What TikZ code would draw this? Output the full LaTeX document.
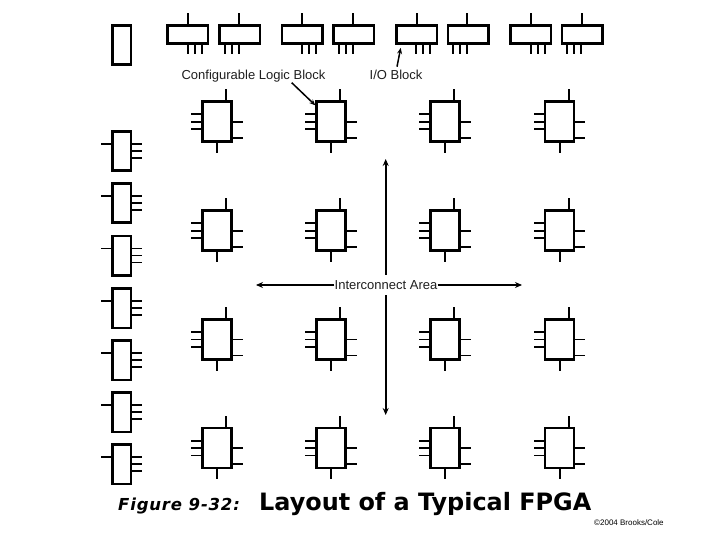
\documentclass[tikz,border=0pt]{standalone}
\usepackage{fontspec}
\setmainfont{Liberation Sans}
\newfontfamily\capfont{DejaVu Sans}
\usetikzlibrary{arrows.meta,calc}
\tikzset{
  blockbox/.style={draw=black,line width=2.6pt,fill=white,inner sep=0pt,anchor=north west},
  pin/.style={draw=black,line width=1.7pt},
  lbl/.style={inner sep=0pt,anchor=base,font=\fontsize{13}{15}\selectfont,text=black!88},
  callout/.style={draw=black,line width=1.5pt,-{Stealth[length=6pt,width=5pt]}},
  span/.style={draw=black,line width=1.7pt,-{Stealth[length=7pt,width=6pt]}},
  spanh/.style={draw=black,line width=1.1pt,-{Stealth[length=7pt,width=6pt]}}
}
% CLB: name, left, top
\newcommand{\clbblock}[3]{%
  \node[blockbox,minimum width=29pt,minimum height=40pt] (#1) at (#2,#3) {};
  \draw[pin] ($(#1.north west)+(25,0)$) -- +(0,-11);
  \draw[pin] ($(#1.north west)+(0,14)$) -- +(-10,0);
  \draw[pin] ($(#1.north west)+(0,21.4)$) -- +(-10,0);
  \draw[pin] ($(#1.north west)+(0,28.7)$) -- +(-10,0);
  \draw[pin] ($(#1.north east)+(0,21.4)$) -- +(10,0);
  \draw[pin] ($(#1.north east)+(0,37.4)$) -- +(10,0);
  \draw[pin] ($(#1.south west)+(16,0)$) -- +(0,10);
}
% top I/O: name, left, top-stub offset, first bottom-stub offset
\newcommand{\topio}[4]{%
  \node[blockbox,minimum width=40.5pt,minimum height=18pt] (#1) at (#2,24) {};
  \draw[pin] ($(#1.north west)+(#3,0)$) -- +(0,-10.5);
  \foreach \d in {0,7,14}
    \draw[pin] ($(#1.south west)+(#4+\d,0)$) -- +(0,9.5);
}
% left I/O: name, top
\newcommand{\leftio}[2]{%
  \node[blockbox,minimum width=18.5pt,minimum height=39.5pt] (#1) at (111,#2) {};
  \draw[pin] ($(#1.north west)+(0,14)$) -- +(-10,0);
  \foreach \d in {14,21,28}
    \draw[pin] ($(#1.north east)+(0,\d)$) -- +(9.5,0);
}
\begin{document}
\begin{tikzpicture}[x=1pt,y=-1pt]
\useasboundingbox (0,0) rectangle (720,540);
\fill[white] (0,0) rectangle (720,540);
% top row of I/O blocks
\topio{t1}{166}{22}{22}
\topio{t2}{218}{21}{7}
\topio{t3}{280.7}{21.3}{21.3}
\topio{t4}{332}{21}{7}
\topio{t5}{395}{22}{21}
\topio{t6}{446.7}{20.3}{6.3}
\topio{t7}{509}{22}{22}
\topio{t8}{560.7}{21.3}{6.3}
% left column of I/O blocks
\node[blockbox,minimum width=18.5pt,minimum height=39.5pt] (l0) at (111,24) {};
\leftio{l1}{130}
\leftio{l2}{182}
\leftio{l3}{234.5}
\leftio{l4}{287}
\leftio{l5}{339}
\leftio{l6}{391}
\leftio{l7}{443.3}
% logic blocks
\foreach \c/\x in {1/201,2/315.3,3/429.3,4/543.7}
  \foreach \r/\y in {1/100.3,2/209.3,3/318,4/426.7}
    {\clbblock{c\c\r}{\x}{\y}}
% labels
\node[lbl] (clblabel) at (253.5,80) {Configurable Logic Block};
\node[lbl] (iolabel) at (396,80) {I/O Block};
\node[lbl,anchor=center,fill=white,minimum height=20pt] (ialabel) at (386,285) {Interconnect Area};
% callouts
\coordinate (clbtail) at (291.7,82.7);
\coordinate (iotail) at (397,66.7);
\draw[callout] (clbtail) -- ($(c21.north west)+(0,5)$);
\draw[callout] (iotail) -- ($(t5.south west)+(5.7,3.3)$);
% interconnect arrows
\coordinate (iaup) at (385.7,159);
\coordinate (iadown) at (385.7,415);
\coordinate (ialeft) at (256,285);
\coordinate (iaright) at (522,285);
\draw[span] (ialabel.north -| iaup) -- (iaup);
\draw[span] (ialabel.south -| iadown) -- (iadown);
\draw[spanh] (ialabel.west) -- (ialeft);
\draw[spanh] (ialabel.east) -- (iaright);
% captions
\node[anchor=base west,inner sep=0pt,font=\capfont\fontsize{16.5}{18}\selectfont\itshape\bfseries\addfontfeature{LetterSpace=5}] (figno) at (118,510.5) {Figure 9-32:};
\node[anchor=base west,inner sep=0pt,font=\capfont\fontsize{23.9}{28}\selectfont\bfseries] (figtitle) at (259,510.5) {Layout of a Typical FPGA};
\node[anchor=base west,inner sep=0pt,font=\fontsize{8}{10}\selectfont] (copyr) at (594,525) {©2004 Brooks/Cole};
\end{tikzpicture}
\end{document}
